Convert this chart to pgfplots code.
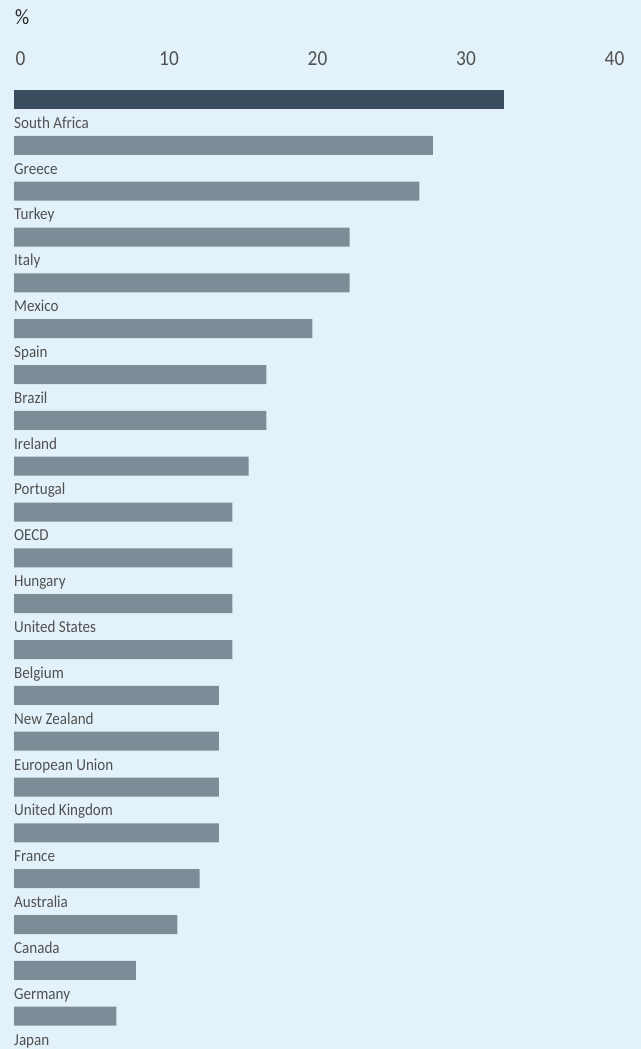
\documentclass[border=0pt]{standalone}
\usepackage{fontspec}
\setmainfont[FakeStretch=0.9]{Carlito}
\usepackage{pgfplots}
\pgfplotsset{compat=1.18}
\definecolor{bg}{HTML}{E3F2FA}
\definecolor{darkbar}{HTML}{3A4D5E}
\definecolor{greybar}{HTML}{7E8C97}
\definecolor{txt}{HTML}{505050}
\begin{document}
\begin{tikzpicture}
\fill[bg] (0,0) rectangle (641bp,-1049bp);
\node[anchor=base west, inner sep=0pt, font=\fontsize{22}{24}\selectfont, text=black!85] at (15bp,-24.5bp) {\%};
\begin{axis}[
  at={(14bp,-99.5bp)}, anchor=origin,
  x=14.85bp, y=45.835bp,
  xmin=0, xmax=40, ymin=-20.6, ymax=0.75,
  axis line style={draw=none},
  major tick length=0pt,
  xtick={0,10,20,30,40},
  xticklabel pos=upper,
  xticklabel style={anchor=base, inner sep=0pt, xshift=6.5bp, font=\fontsize{21.5}{24}\selectfont, text=txt},
  ytick={-20,-19,-18,-17,-16,-15,-14,-13,-12,-11,-10,-9,-8,-7,-6,-5,-4,-3,-2,-1,0},
  yticklabels={Japan,Germany,Canada,Australia,France,United Kingdom,European Union,New Zealand,Belgium,United States,Hungary,OECD,Portugal,Ireland,Brazil,Spain,Mexico,Italy,Turkey,Greece,South Africa},
  yticklabel style={anchor=base west, inner sep=0pt, yshift=-28.8bp, font=\fontsize{16.8}{18}\selectfont, text=txt},
  xbar, bar width=19bp, bar shift=0pt,
  clip=false,
  /pgf/number format/assume math mode=true,
]
\addplot[fill=darkbar, draw=none] coordinates {(33.0,0)};
\addplot[fill=greybar, draw=none] coordinates {
(28.2,-1) (27.3,-2) (22.6,-3) (22.6,-4) (20.1,-5) (17.0,-6) (17.0,-7)
(15.8,-8) (14.7,-9) (14.7,-10) (14.7,-11) (14.7,-12) (13.8,-13) (13.8,-14)
(13.8,-15) (13.8,-16) (12.5,-17) (11.0,-18) (8.2,-19) (6.9,-20)};
\end{axis}
\pgfresetboundingbox
\path[use as bounding box] (0,0) rectangle (641bp,-1049bp);
\end{tikzpicture}
\end{document}
